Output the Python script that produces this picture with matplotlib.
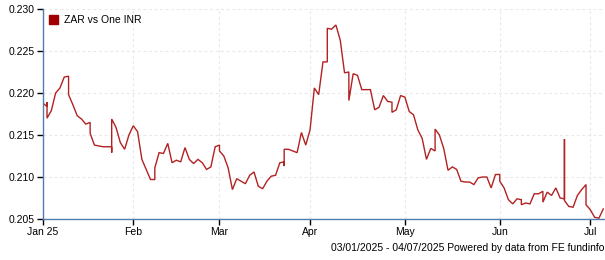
import numpy as np
import pandas as pd
import matplotlib
matplotlib.use("Agg")
import matplotlib.pyplot as plt
from matplotlib.patches import Patch

plt.rcParams['font.family'] = ['Liberation Sans', 'DejaVu Sans']

# Business days from 03/01/2025 to 04/07/2025; tuples = several quotes drawn on the same day
start_date = "2025-01-03"
end_date = "2025-07-04"
values = [
    0.2188, (0.2184, 0.2189, 0.2170), 0.2179, 0.2200, 0.2206, 0.2219, (0.2220, 0.2198), 0.2186, 0.2173, 0.2169,
    0.2163, (0.2165, 0.2152), 0.2138, 0.2137, 0.2136, 0.2136, (0.2136, 0.2129, 0.2169), 0.2159, 0.2141, 0.2133,
    0.2150, 0.2161, 0.2154, 0.2121, 0.2109, 0.2097, (0.2097, 0.2111), 0.2129, 0.2128, 0.2140,
    0.2117, 0.2120, 0.2118, 0.2135, 0.2121, 0.2116, 0.2121, 0.2117, 0.2109, 0.2112,
    0.2136, (0.2138, 0.2131), 0.2125, 0.2111, 0.2085, 0.2098, 0.2095, 0.2092, 0.2102, 0.2106,
    0.2089, 0.2086, 0.2095, 0.2101, 0.2102, 0.2117, (0.2118, 0.2113, 0.2133), 0.2133, 0.2131, 0.2129,
    0.2153, 0.2138, 0.2156, 0.2206, 0.2198, 0.2237, (0.2237, 0.2277), 0.2276, 0.2281, 0.2263,
    0.2224, (0.2225, 0.2191), 0.2223, 0.2221, 0.2204, 0.2204, 0.2204, 0.2180, 0.2183, 0.2197,
    0.2190, (0.2189, 0.2177), 0.2180, 0.2197, 0.2195, 0.2178, 0.2174, 0.2156, 0.2146, 0.2121,
    0.2134, (0.2131, 0.2157), 0.2150, 0.2134, 0.2108, 0.2112, 0.2109, 0.2095, 0.2094, 0.2094,
    0.2091, 0.2099, 0.2100, 0.2100, 0.2087, 0.2103, (0.2103, 0.2095), 0.2087, 0.2073, 0.2068,
    0.2074, (0.2073, 0.2067), 0.2069, 0.2068, 0.2080, 0.2080, (0.2083, 0.2070), 0.2082, 0.2078, 0.2087,
    0.2075, (0.2074, 0.2145, 0.2072), 0.2065, 0.2064, 0.2078, 0.2085, (0.2091, 0.2067), 0.2061, 0.2052, 0.2051,
    0.2062,
]
month_ticks = ["2025-01-03", "2025-02-03", "2025-03-03", "2025-04-01", "2025-05-01", "2025-06-02", "2025-07-01"]
month_labels = ["Jan 25", "Feb", "Mar", "Apr", "May", "Jun", "Jul"]
y_ticks = [0.205, 0.210, 0.215, 0.220, 0.225, 0.230]
series_name = "ZAR vs One INR"
footer = "03/01/2025 - 04/07/2025 Powered by data from FE fundinfo"

days = pd.bdate_range(start_date, end_date)
xs, ys = [], []
for i, v in enumerate(values):
    for item in (v if isinstance(v, tuple) else (v,)):
        xs.append(i)
        ys.append(item)

tick_pos = [int(np.busday_count(start_date, d)) for d in month_ticks]

W, H = 605, 260
fig = plt.figure(figsize=(W / 100, H / 100), dpi=100)
left, right = 42.7 / W, 604 / W
top, bottom = 1 - 9 / H, 1 - 219 / H
ax = fig.add_axes([left, bottom, right - left, top - bottom])

line_color = "#b22222"
spine_color = "#4f7db3"
ax.plot(xs, ys, color=line_color, lw=1.0, solid_joinstyle="miter")

ax.set_ylim(0.205, 0.230)
ax.set_xlim(0, (604 - 42.7) / 4.312)
ax.set_yticks(y_ticks)
ax.set_yticklabels([f"{t:.3f}" for t in y_ticks])
ax.set_xticks(tick_pos)
ax.set_xticklabels(month_labels)

for s in ["top", "right"]:
    ax.spines[s].set_visible(False)
for s in ["left", "bottom"]:
    ax.spines[s].set_color(spine_color)
    ax.spines[s].set_linewidth(1.0)

ax.tick_params(axis="both", labelsize=7.5, colors="black", length=4, width=1, pad=2)
ax.tick_params(axis="both", color="black")
ax.grid(True, color="#e8e8e8", linestyle=(0, (2.5, 2.5)), linewidth=0.8)
ax.set_axisbelow(True)

ax.legend(handles=[Patch(facecolor="#a00000", edgecolor="#a00000", label=series_name)],
          loc="upper left", frameon=False, fontsize=7.5, handlelength=0.9, handleheight=0.9,
          handletextpad=0.5, borderaxespad=0.2, bbox_to_anchor=(0.0, 1.0))

fig.text(604 / W, 1 - 248 / H, footer, ha="right", va="center", fontsize=7.5)

fig.savefig("out.png", dpi=100)
